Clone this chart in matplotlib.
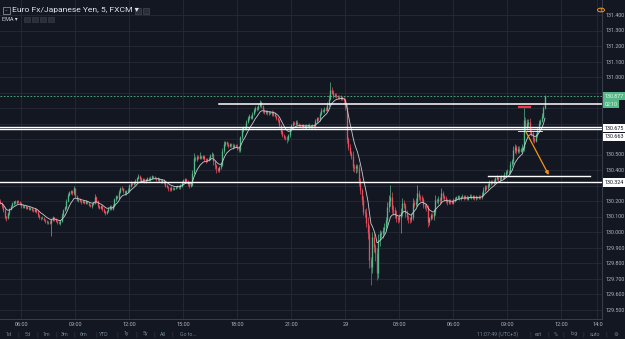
import numpy as np
import matplotlib
matplotlib.use('Agg')
import matplotlib.pyplot as plt
from matplotlib.patches import Rectangle, Circle

#------------------------------------------------------------------------------
# data: EUR/JPY 5 min candles, values in thousandths above 130.000
#------------------------------------------------------------------------------

base_price = 130.0

closes = [
 187,165,142,100,88,120,148,170,185,196,190,200,192,185,170,160,166,158,162,150,
 155,142,138,146,130,110,95,88,92,78,70,62,66,58,80,95,82,72,66,60,
 70,110,140,158,200,240,255,262,250,280,230,205,210,198,192,200,188,196,185,176,
 168,178,190,222,200,170,158,165,150,132,125,135,155,165,150,170,210,230,222,260,
 285,280,262,250,262,270,300,318,310,322,330,350,362,345,330,340,328,338,345,336,
 350,358,352,348,340,345,332,325,335,318,300,290,282,275,285,278,282,290,296,288,
 300,320,332,340,330,310,300,306,380,478,470,485,478,490,480,488,470,462,468,475,
 495,500,455,430,410,400,418,435,520,570,578,568,555,565,560,548,562,555,540,528,
 610,660,675,668,710,735,745,738,760,785,800,795,815,835,810,785,772,778,765,770,
 775,760,768,750,735,722,690,648,625,612,605,600,625,660,690,705,700,712,698,690,
 688,680,690,675,685,692,678,683,690,682,715,735,728,760,785,780,795,790,820,860,
 915,900,880,885,875,870,865,872,860,850,805,600,550,510,490,420,410,425,415,330,
 271,206,129,123,60,-6,-181,-226,-32,-97,-135,-265,-52,-10,-6,10,32,77,161,200,
 226,150,142,110,90,85,95,129,187,175,123,95,90,85,100,187,180,195,252,225,
 219,210,175,161,160,65,90,110,105,130,206,200,210,205,252,230,219,205,195,200,
 194,190,205,215,222,230,218,226,232,220,228,215,225,232,222,230,218,226,220,228,
 224,240,270,290,285,300,315,323,318,330,345,352,340,348,355,350,370,385,392,388,
 440,455,530,545,520,535,525,530,545,720,680,700,708,650,635,600,590,625,660,700,
 715,745,800,877]

upper_wick = [
 10,8,6,12,5,9,7,4,10,6,8,5,9,7,6,11,5,8,6,7,
 5,9,6,8,4,10,7,5,12,6,8,5,7,9,6,10,5,8,4,6,
 8,12,6,10,15,9,7,12,8,14,6,10,5,8,7,9,6,8,5,10,
 7,9,6,20,8,5,7,10,6,8,5,9,7,6,10,8,12,6,9,11,
 8,10,6,9,7,12,8,10,6,9,12,8,14,6,9,7,10,6,8,9,
 10,12,6,8,9,7,6,10,8,5,7,9,6,8,10,6,9,7,8,6,
 9,8,10,7,6,8,5,9,20,30,15,12,10,25,8,10,6,9,8,12,
 10,15,8,6,9,5,10,12,25,15,12,8,10,9,7,12,8,6,10,8,
 12,15,10,8,14,12,15,10,12,18,15,10,12,17,10,8,9,12,7,10,
 8,12,10,9,8,10,6,9,7,10,8,12,9,15,10,8,12,10,9,7,
 8,10,9,7,12,8,10,6,9,8,12,10,9,15,12,10,14,9,20,25,
 53,20,15,12,10,9,12,10,8,10,15,20,10,15,12,30,20,15,12,25,
 20,15,25,20,30,40,50,20,30,25,20,30,40,20,15,20,25,20,30,40,
 77,30,25,20,30,15,20,25,30,20,15,20,15,10,25,30,20,25,50,20,
 15,20,15,10,20,15,10,12,15,20,30,15,20,15,30,15,10,12,10,15,
 10,12,15,10,12,8,10,9,12,8,10,9,8,12,10,9,8,10,9,8,
 10,15,20,15,12,15,18,12,10,15,12,15,10,12,15,10,15,18,12,10,
 20,15,25,20,15,20,18,15,20,80,25,30,20,25,20,15,10,15,20,25,
 15,20,15,10]

lower_wick = [
 8,10,12,15,20,6,9,7,5,10,8,6,7,9,12,8,6,10,7,9,
 8,6,10,7,9,12,8,10,6,9,11,8,10,9,84,8,10,9,12,10,
 15,8,10,6,9,8,10,7,12,9,11,8,10,6,9,7,8,10,6,9,
 8,10,7,9,12,15,10,8,12,10,15,8,6,10,8,9,7,10,8,9,
 7,10,8,12,9,6,10,8,9,6,10,8,9,12,10,7,9,10,8,6,
 8,7,10,9,12,8,10,9,6,10,12,9,15,10,8,9,10,7,8,10,
 9,8,10,12,8,10,15,12,10,8,12,9,10,8,12,10,9,15,12,10,
 8,10,20,25,30,15,10,12,9,10,12,15,10,9,12,10,8,9,12,10,
 10,8,12,10,9,8,10,12,9,8,10,12,9,8,12,15,10,9,12,8,
 10,12,9,10,12,15,20,18,15,12,10,25,10,9,10,8,12,9,10,12,
 9,10,8,12,9,10,12,8,9,10,8,9,12,10,8,9,10,12,9,10,
 10,12,15,10,12,9,10,12,10,15,20,25,20,15,20,25,20,30,25,30,
 25,30,20,25,30,40,50,116,40,35,50,45,30,40,25,30,25,20,30,35,
 30,25,30,20,25,30,20,100,25,20,25,20,30,25,20,25,20,15,25,20,
 20,15,20,15,25,30,20,15,20,25,20,15,20,15,20,15,20,15,20,15,
 12,10,9,12,10,8,10,9,8,12,10,9,10,8,12,10,9,10,8,9,
 10,12,8,10,12,15,10,12,10,9,12,10,15,10,12,10,9,12,10,15,
 15,12,15,20,15,12,15,10,15,20,30,20,25,20,15,20,15,12,10,12,
 10,8,10,5]

first_open = 200

time_ticks = [14, 50, 86, 122, 158, 194, 230, 266, 302, 338, 374, 398]
time_labels = ['06:00', '09:00', '12:00', '15:00', '18:00', '21:00', '29',
               '03:00', '06:00', '09:00', '12:00', '14:0']

price_ticks = [129.5, 129.6, 129.7, 129.8, 129.9, 130.0, 130.1, 130.2, 130.3,
               130.4, 130.5, 130.6, 130.7, 130.8, 130.9, 131.0, 131.1, 131.2,
               131.3, 131.4]
hidden_ticks = [130.3, 130.6, 130.7, 130.8, 130.9]

# drawings on the chart
full_lines = [130.675, 130.663, 130.324]
ray_start = 146
ray_price = 130.826
short_line = (325, 393, 130.361)
short_line2 = (345, 361, 130.650)
red_mark = (346, 353, 130.806)
arrow_from = (350, 130.652)
arrow_to = (365.5, 130.368)
last_price = 130.877

ema_len = 9

#------------------------------------------------------------------------------

W, H = 625, 339
bg = '#131722'
grid_c = '#262b37'
txt_c = '#b2b5be'
green = '#53b987'
red = '#eb4d5c'
fam = ['Roboto', 'DejaVu Sans']

c = base_price + np.array(closes, dtype=np.float64)/1000.
o = np.empty_like(c)
o[0] = base_price + first_open/1000.
o[1:] = c[:-1]
hi = np.maximum(o, c) + np.array(upper_wick)/1000.
lo = np.minimum(o, c) - np.array(lower_wick)/1000.
n = len(c)
idx = np.arange(n)

ema = np.zeros(n)
alpha = 2./(ema_len+1.)
ema[0] = c[0]
for i in range(1, n):
    ema[i] = alpha*c[i] + (1.-alpha)*ema[i-1]

fig = plt.figure(figsize=(W/100., H/100.), dpi=100, facecolor=bg)
ax = fig.add_axes([0, 20./H, 602./W, 319./H], facecolor=bg)

ax.set_xlim(-0.3, 401.0)
ax.set_ylim(131.0 - 242./155., 131.0 + 77./155.)

for t in time_ticks:
    ax.axvline(t, color=grid_c, lw=0.6, zorder=0)
for p in price_ticks:
    ax.axhline(p, color=grid_c, lw=0.6, zorder=0)

up = c >= o
cols = np.where(up, green, red)
ax.vlines(idx, lo, hi, colors=cols, lw=0.5, zorder=2)
ax.vlines(idx, np.minimum(o, c), np.maximum(o, c) + 0.0008, colors=cols, lw=0.95, zorder=3)

ax.plot(idx, ema, color='#c9cbd1', lw=0.6, zorder=4)

# drawings
ax.axhline(last_price, color=green, lw=0.6, ls=(0, (2, 2)), zorder=5)
for p in full_lines:
    ax.axhline(p, color='white', lw=1.0, zorder=6)
ax.plot([ray_start, 402], [ray_price, ray_price], color='white', lw=1.1, zorder=6)
ax.plot(short_line[:2], [short_line[2]]*2, color='white', lw=1.0, zorder=6)
ax.plot(short_line2[:2], [short_line2[2]]*2, color='white', lw=0.6, zorder=6)
ax.plot(red_mark[:2], [red_mark[2]]*2, color='#f23645', lw=1.6, zorder=6)
ax.annotate('', xy=arrow_to, xytext=arrow_from,
            arrowprops=dict(arrowstyle='-|>', color='#f7931a', lw=0.9,
                            mutation_scale=5, shrinkA=0, shrinkB=0), zorder=7)

ax.set_xticks(time_ticks)
ax.set_xticklabels(time_labels, fontsize=4, color=txt_c, family='Roboto')
ax.yaxis.tick_right()
ax.set_yticks(price_ticks)
ax.set_yticklabels(['' if p in hidden_ticks else '%.3f' % p for p in price_ticks],
                   fontsize=3.9, color=txt_c, family='Roboto')
ax.tick_params(length=0, pad=2.5)
for s in ['top', 'left']:
    ax.spines[s].set_visible(False)
for s in ['right', 'bottom']:
    ax.spines[s].set_color('#3a3f4c')
    ax.spines[s].set_linewidth(0.7)

#------------------------------------------------------------------------------
# axis price boxes
#------------------------------------------------------------------------------

def px(x, y):
    return x/W, 1. - y/H

def price_box(y, s, fc, tc):
    fig.text(*px(604.5, y), s, fontsize=3.9, family='Roboto', color=tc,
             ha='left', va='center',
             bbox=dict(boxstyle='square,pad=0.35', fc=fc, ec='none'))

price_box(96, '130.877', green, '#e8f5ee')
price_box(104, '02:10', green, '#e8f5ee')
price_box(128, '130.675', 'white', '#131722')
price_box(137, '130.663', 'white', '#131722')
price_box(182.5, '130.324', 'white', '#131722')

#------------------------------------------------------------------------------
# header and toolbar
#------------------------------------------------------------------------------

fig.patches.append(Rectangle(px(3, 14), 7/W, 7/H, transform=fig.transFigure,
                             fill=False, ec='#9aa0ad', lw=0.5))
fig.text(*px(6.5, 10.5), '–', fontsize=4, color='#9aa0ad', ha='center', va='center')
fig.text(*px(12, 10), 'Euro Fx/Japanese Yen, 5, FXCM ▾', fontsize=6.1,
         color='#e0e3eb', family=fam, ha='left', va='center')
for xx in [135, 143]:
    fig.patches.append(Rectangle(px(xx, 14), 6/W, 6/H, transform=fig.transFigure,
                                 fc='#2a2e39', ec='#4a4f5c', lw=0.4))
fig.text(*px(2, 19.5), 'EMA ▾', fontsize=4, color='#d1d4dc', family=fam,
         ha='left', va='center')
for xx in [24, 32, 40, 48]:
    fig.patches.append(Rectangle(px(xx, 22), 6/W, 5/H, transform=fig.transFigure,
                                 fc='#2a2e39', ec='#3a3f4c', lw=0.4))

fig.patches.append(Circle(px(601, 10), 3.5/W, transform=fig.transFigure,
                          fill=False, ec='#f7931a', lw=0.7))
fig.text(*px(601, 10), '!', fontsize=4, color='#f7931a', ha='center', va='center',
         weight='bold')

tool_c = '#758696'
for s, xx in [('1d', 9), ('5d', 28), ('1m', 46), ('3m', 65), ('6m', 83),
              ('YTD', 104), ('1y', 126), ('5y', 145), ('All', 163), ('Go to...', 188)]:
    fig.text(*px(xx, 334), s, fontsize=3.8, color=tool_c, family='Roboto',
             ha='center', va='center')
for xx in [18, 37, 56, 74, 96, 117, 136, 154, 172, 530, 548, 563, 583, 606]:
    fig.text(*px(xx, 334), '|', fontsize=3.8, color='#3a3f4c', ha='center', va='center')
for s, xx in [('11:07:49 (UTC+3)', 498), ('ext', 538), ('%', 556), ('log', 574),
              ('auto', 595), ('⚙', 616)]:
    fig.text(*px(xx, 334), s, fontsize=3.8, color=tool_c,
             family=fam, ha='center', va='center')

plt.savefig('out.png', dpi=100, facecolor=bg)
